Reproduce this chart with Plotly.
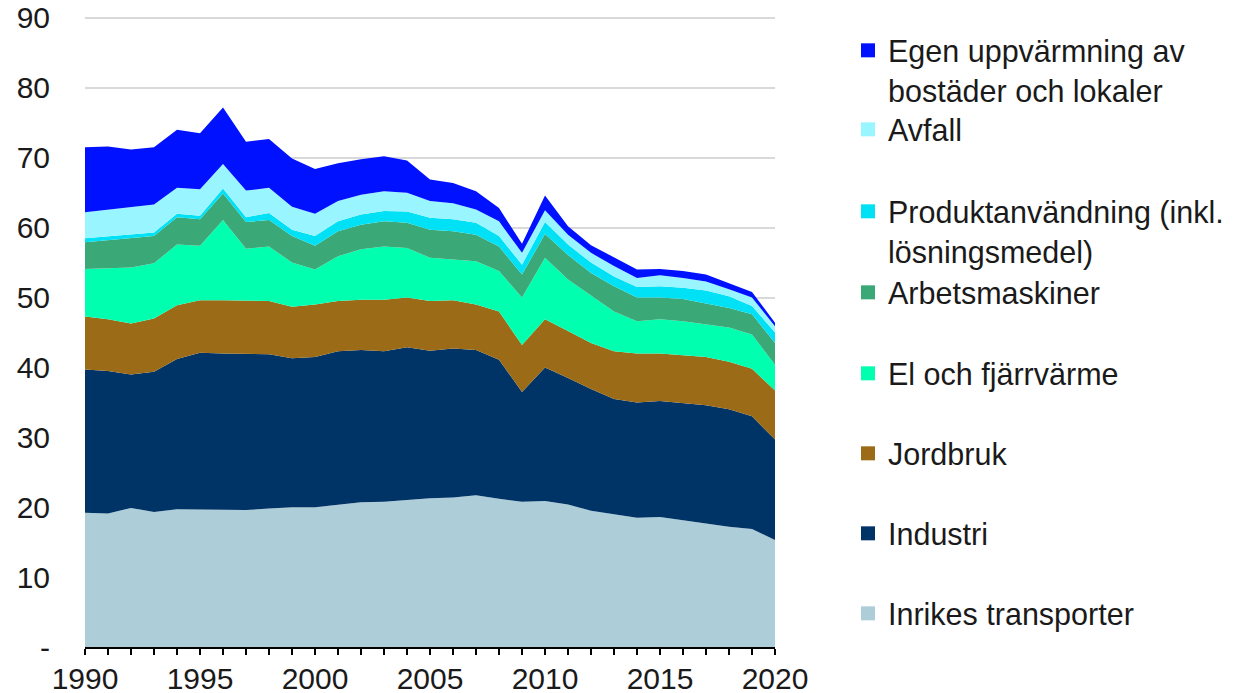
import plotly.graph_objects as go

years = list(range(1990, 2021))

inrikes = [19.2, 19.1, 19.9, 19.3, 19.7, 19.7, 19.6, 19.6, 19.8, 20.0,
           20.0, 20.3, 20.7, 20.8, 21.1, 21.3, 21.4, 21.7, 21.2, 20.8,
           20.9, 20.4, 19.5, 19.0, 18.5, 18.6, 18.1, 17.7, 17.2, 16.9, 15.3]
industri = [20.5, 20.4, 19.1, 20.1, 21.5, 22.4, 22.4, 22.4, 22.1, 21.3,
            21.5, 22.0, 21.8, 21.5, 21.8, 21.1, 21.3, 20.8, 19.9, 15.7,
            19.1, 18.1, 17.4, 16.5, 16.5, 16.6, 16.8, 16.9, 16.8, 16.1, 14.4]
jordbruk = [7.6, 7.4, 7.3, 7.6, 7.7, 7.5, 7.6, 7.6, 7.6, 7.4,
            7.5, 7.2, 7.2, 7.4, 7.1, 7.1, 6.9, 6.5, 6.9, 6.7,
            6.9, 6.7, 6.6, 6.8, 7.0, 6.8, 6.9, 6.9, 6.8, 6.8, 7.0]
el_fjarrvarme = [6.8, 7.3, 8.0, 7.9, 8.7, 7.8, 11.5, 7.4, 7.8, 6.3,
                 5.0, 6.4, 7.2, 7.6, 7.1, 6.2, 5.8, 6.2, 5.8, 6.8,
                 8.8, 7.4, 6.8, 5.7, 4.6, 4.9, 4.8, 4.6, 4.9, 4.9, 3.7]
arbetsmaskiner = [3.8, 4.0, 4.1, 3.9, 3.9, 3.8, 3.8, 3.8, 3.8, 3.8,
                  3.4, 3.6, 3.5, 3.6, 3.6, 4.0, 4.1, 3.8, 3.5, 3.3,
                  3.4, 3.5, 3.2, 3.6, 3.4, 3.1, 3.2, 3.1, 2.8, 2.9, 3.1]
produkt = [0.6, 0.6, 0.6, 0.5, 0.5, 0.5, 0.7, 0.7, 1.0, 0.9,
           1.4, 1.4, 1.5, 1.5, 1.6, 1.7, 1.7, 1.7, 1.5, 1.4,
           1.7, 1.5, 1.5, 1.4, 1.5, 1.6, 1.6, 1.8, 1.7, 1.2, 1.5]
avfall = [3.7, 3.8, 4.0, 4.0, 3.7, 3.8, 3.5, 3.8, 3.6, 3.3,
          3.2, 2.9, 2.8, 2.8, 2.7, 2.4, 2.3, 1.9, 2.1, 1.7,
          1.7, 1.4, 1.4, 1.5, 1.3, 1.6, 1.4, 1.3, 1.0, 1.2, 0.9]
egen_uppvarmning = [9.3, 9.0, 8.2, 8.2, 8.3, 8.0, 8.1, 7.0, 7.0, 6.9,
                    6.4, 5.4, 5.1, 5.0, 4.6, 3.1, 2.9, 2.6, 1.9, 1.3,
                    2.1, 1.2, 1.1, 1.2, 1.2, 0.9, 1.0, 1.0, 0.9, 0.8, 0.5]

names = ["Inrikes transporter", "Industri", "Jordbruk", "El och fjärrvärme",
         "Arbetsmaskiner", "Produktanvändning (inkl.<br>lösningsmedel)",
         "Avfall", "Egen uppvärmning av<br>bostäder och lokaler"]
values = [inrikes, industri, jordbruk, el_fjarrvarme, arbetsmaskiner,
          produkt, avfall, egen_uppvarmning]
colors = ["#ADCED9", "#003366", "#9C6B17", "#00FFAF", "#3AA877",
          "#00E1F5", "#99F5FF", "#0011FF"]

y_ticks = [0, 10, 20, 30, 40, 50, 60, 70, 80, 90]
y_ticktext = ["-", "10", "20", "30", "40", "50", "60", "70", "80", "90"]
x_ticks = [1990, 1995, 2000, 2005, 2010, 2015, 2020]

FONT = "Liberation Sans, Arial, sans-serif"
TXT = "#1a1a1a"

# page body has an 8px default margin; figure sized to fit the window
W, H = 1226, 685
YMAX = 91.0
PX_PER_UNIT = 629 / 90.0
PL, PR, PB = 77, 767, 639                    # plot area in figure pixels
PT = round(PB - YMAX * PX_PER_UNIT)

fig = go.Figure()
for name, vals, col in zip(names, values, colors):
    fig.add_trace(go.Scatter(
        x=years, y=vals, name=name, stackgroup="one", mode="lines",
        line=dict(width=0, color=col), fillcolor=col, showlegend=False))

# legend entries (top to bottom), each in its own legend box
legend_tops_px = [24, 103, 185, 266, 347, 427, 507, 587]  # page pixels
layout_legends = {}
order = list(range(len(names)))[::-1]
for i, idx in enumerate(order):
    key = "legend" if i == 0 else f"legend{i+1}"
    fig.add_trace(go.Scatter(
        x=[None], y=[None], mode="markers", name=names[idx],
        marker=dict(symbol="square", size=14, color=colors[idx]),
        legend=key, showlegend=True))
    ypaper = (PB - (legend_tops_px[i] - 8)) / (PB - PT)
    layout_legends[key] = dict(
        x=(840 - PL) / (PR - PL), xanchor="left", y=ypaper, yanchor="top",
        valign="top", bgcolor="rgba(0,0,0,0)", borderwidth=0,
        font=dict(family=FONT, size=30.5, color=TXT), itemclick=False)

fig.update_layout(
    width=W, height=H,
    margin=dict(l=PL, r=W - PR, t=PT, b=H - PB, autoexpand=False),
    paper_bgcolor="white", plot_bgcolor="white",
    font=dict(family=FONT, size=30, color=TXT),
    **layout_legends,
    xaxis=dict(range=[1990, 2020], tickmode="array", tickvals=x_ticks,
               ticks="outside", ticklen=6, tickwidth=1.5, tickcolor="black",
               showline=True, linecolor="black", linewidth=1.5,
               showgrid=False, zeroline=False,
               minor=dict(dtick=1, ticks="outside", ticklen=6, tickwidth=1.5,
                          tickcolor="black", showgrid=False),
               ticklabelstandoff=-2, ticklabeloverflow="allow",
               tickfont=dict(family=FONT, size=30, color=TXT)),
    yaxis=dict(range=[0, YMAX], tickmode="array", tickvals=y_ticks,
               ticktext=y_ticktext, showgrid=True, gridcolor="#d9d9d9",
               gridwidth=2, zeroline=False, showline=False, ticks="",
               ticklabelstandoff=34, ticklabeloverflow="allow",
               tickfont=dict(family=FONT, size=30, color=TXT)),
)

fig.write_html("out.html")
